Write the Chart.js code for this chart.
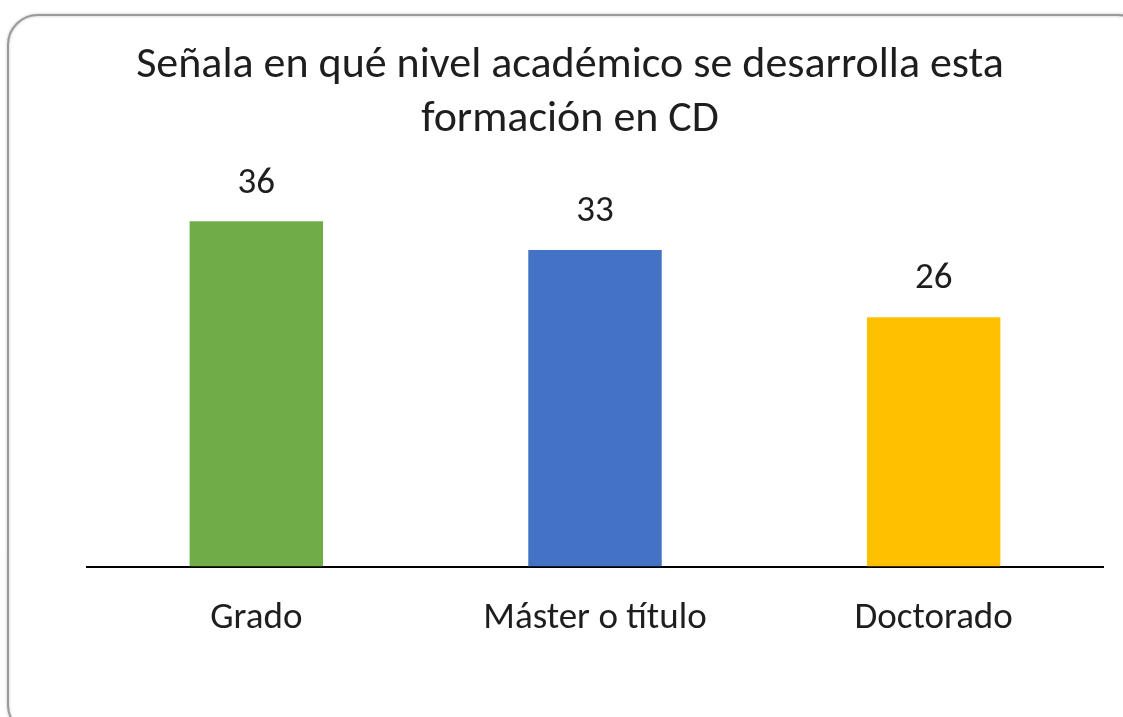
<!DOCTYPE html>
<html>
<head>
<meta charset="utf-8">
<script src="https://cdn.jsdelivr.net/npm/chart.js@4/dist/chart.umd.min.js"></script>
<style>
  html, body { margin: 0; padding: 0; background: #ffffff; }
  #wrap { width: 1123px; height: 717px; position: relative; }
</style>
</head>
<body>
<div id="wrap"><canvas id="c" width="1123" height="717"></canvas></div>
<script>
const titleLines = ['Señala en qué nivel académico se desarrolla esta', 'formación en CD'];
const categories = ['Grado', 'Máster o título', 'Doctorado'];
const values = [36, 33, 26];
const barColors = ['#70AD47', '#4472C4', '#FFC000'];

const FONT = "Carlito, 'Open Sans', 'Noto Sans', sans-serif";
const TEXT = '#1e1e1e';

const framePlugin = {
  id: 'frame',
  beforeDraw(chart) {
    const ctx = chart.ctx;
    ctx.save();
    ctx.fillStyle = '#ffffff';
    ctx.fillRect(0, 0, chart.width, chart.height);
    ctx.shadowColor = 'rgba(0,0,0,0.25)';
    ctx.shadowBlur = 3;
    ctx.shadowOffsetX = 0;
    ctx.shadowOffsetY = 0;
    ctx.strokeStyle = '#9a9a9a';
    ctx.lineWidth = 2;
    ctx.beginPath();
    ctx.roundRect(8, 15, 1140, 720, 30);
    ctx.stroke();
    ctx.restore();
  }
};

const valueLabels = {
  id: 'valueLabels',
  afterDatasetsDraw(chart) {
    const ctx = chart.ctx;
    const meta = chart.getDatasetMeta(0);
    ctx.save();
    ctx.font = "37px " + FONT;
    ctx.fillStyle = TEXT;
    ctx.textAlign = 'center';
    ctx.textBaseline = 'middle';
    meta.data.forEach((bar, i) => {
      ctx.fillText(String(chart.data.datasets[0].data[i]), bar.x, bar.y - 38);
    });
    ctx.restore();
  }
};

new Chart(document.getElementById('c'), {
  type: 'bar',
  data: {
    labels: categories,
    datasets: [{
      data: values,
      backgroundColor: barColors,
      borderWidth: 0,
      barPercentage: 1,
      categoryPercentage: 0.394
    }]
  },
  options: {
    responsive: false,
    animation: false,
    devicePixelRatio: 1,
    layout: { padding: { top: 0, left: 37, right: 20, bottom: 46 } },
    plugins: {
      legend: { display: false },
      tooltip: { enabled: false },
      title: {
        display: true,
        text: titleLines,
        color: TEXT,
        font: { family: FONT, size: 44, weight: 'normal', lineHeight: 1.227 },
        padding: { top: 39, bottom: 36 }
      }
    },
    scales: {
      x: {
        grid: { display: false, drawTicks: false },
        border: { display: true, color: '#000000', width: 2 },
        ticks: { color: TEXT, font: { family: FONT, size: 37 }, padding: 30 }
      },
      y: {
        display: true,
        min: 0,
        max: 40,
        grid: { display: false, drawTicks: false },
        border: { display: false },
        ticks: { display: false },
        afterFit(scale) { scale.width = 50; }
      }
    }
  },
  plugins: [framePlugin, valueLabels]
});
</script>
</body>
</html>
